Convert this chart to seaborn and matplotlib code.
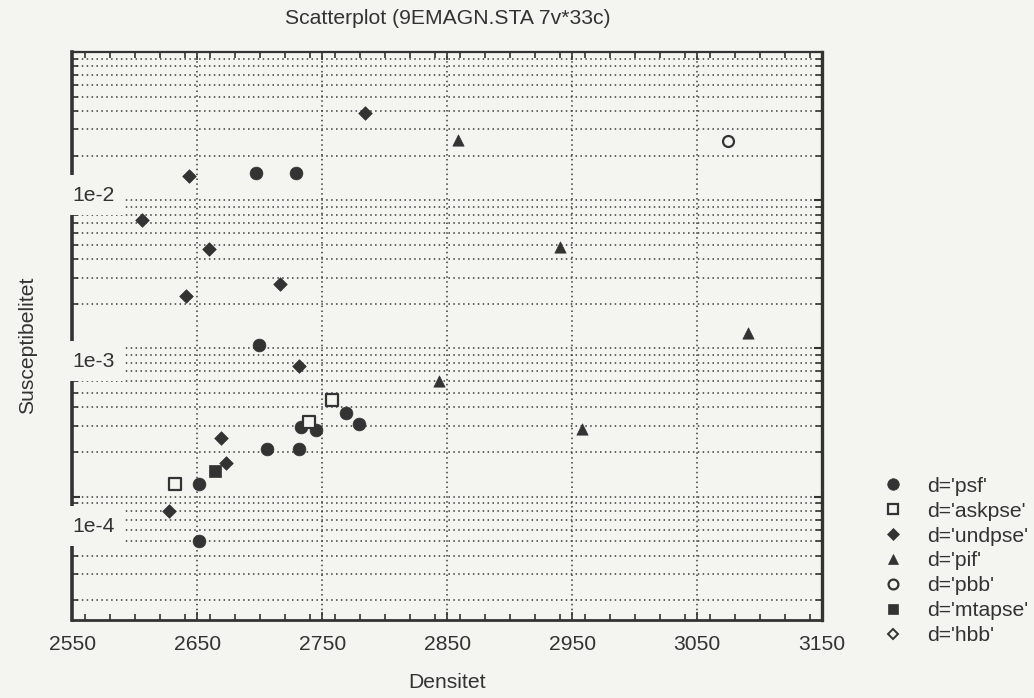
import numpy as np
import pandas as pd
import matplotlib
matplotlib.use("Agg")
import matplotlib.pyplot as plt
from matplotlib.lines import Line2D
from matplotlib.ticker import LogLocator, MultipleLocator, NullFormatter, FixedLocator
import seaborn as sns

# ---------------- data ----------------
groups = ["psf", "askpse", "undpse", "pif", "pbb", "mtapse", "hbb"]

psf_x = [2697, 2729, 2699, 2769, 2779, 2733, 2745, 2706, 2731, 2651, 2651]
psf_y = [0.0153, 0.0153, 0.00106, 0.000368, 0.000307, 0.000296, 0.000281,
         0.000209, 0.000209, 0.000121, 0.0000502]

askpse_x = [2758, 2739, 2632]
askpse_y = [0.000448, 0.000320, 0.000121]

undpse_x = [2784, 2643, 2606, 2659, 2716, 2641, 2731, 2669, 2673, 2627]
undpse_y = [0.0388, 0.0146, 0.00733, 0.00468, 0.00272, 0.00225, 0.00076,
            0.000249, 0.000169, 0.000080]

pif_x = [2859, 2940, 3091, 2843, 2958]
pif_y = [0.02565, 0.00484, 0.001262, 0.000605, 0.000288]

pbb_x = [3075]
pbb_y = [0.0250]

mtapse_x = [2664]
mtapse_y = [0.000150]

hbb_x = []
hbb_y = []

x_ticks = [2550, 2650, 2750, 2850, 2950, 3050, 3150]
y_tick_labels = ["1e-2", "1e-3", "1e-4"]

title = "Scatterplot (9EMAGN.STA 7v*33c)"
x_label = "Densitet"
y_label = "Susceptibelitet"

# ---------------- styling ----------------
sns.set_theme(style="ticks")
plt.rcParams["font.family"] = ["Liberation Sans", "DejaVu Sans"]

BG = "#f4f5f0"
INK = "#333333"
FS = 15.2

frames = []
for g, xs, ys in [("psf", psf_x, psf_y), ("askpse", askpse_x, askpse_y),
                  ("undpse", undpse_x, undpse_y), ("pif", pif_x, pif_y),
                  ("pbb", pbb_x, pbb_y), ("mtapse", mtapse_x, mtapse_y),
                  ("hbb", hbb_x, hbb_y)]:
    frames.append(pd.DataFrame({"Densitet": xs, "Susc": ys, "d": g}))
df = pd.concat(frames, ignore_index=True)

styles = {
    "psf":    dict(marker="o", s=85, fc=INK, ec=INK, lw=0.5),
    "askpse": dict(marker="s", s=64, fc=BG, ec=INK, lw=1.6),
    "undpse": dict(marker="D", s=48, fc=INK, ec=INK, lw=0.5),
    "pif":    dict(marker="^", s=66, fc=INK, ec=INK, lw=0.5),
    "pbb":    dict(marker="o", s=62, fc=BG, ec=INK, lw=1.6),
    "mtapse": dict(marker="s", s=70, fc=INK, ec=INK, lw=0.5),
    "hbb":    dict(marker="D", s=34, fc=BG, ec=INK, lw=1.4),
}

fig = plt.figure(figsize=(10.34, 6.98), dpi=100, facecolor=BG)
ax = fig.add_axes([0.0701, 0.1117, 0.7249, 0.8138], facecolor=BG)

for g in groups:
    sub = df[df["d"] == g]
    if len(sub) == 0:
        continue
    st = styles[g]
    sns.scatterplot(data=sub, x="Densitet", y="Susc", ax=ax, marker=st["marker"],
                    s=st["s"], color=st["fc"], edgecolor=st["ec"],
                    linewidth=st["lw"], legend=False, zorder=4)

ax.set_yscale("log")
ax.set_xlim(2550, 3150)
ax.set_ylim(1.47e-5, 0.1)

# ticks
ax.xaxis.set_major_locator(FixedLocator(x_ticks))
ax.xaxis.set_minor_locator(MultipleLocator(20))
ax.yaxis.set_major_locator(LogLocator(base=10))
ax.yaxis.set_minor_locator(LogLocator(base=10, subs=np.arange(2, 10)))
ax.yaxis.set_major_formatter(NullFormatter())
ax.yaxis.set_minor_formatter(NullFormatter())
ax.tick_params(axis="both", which="both", direction="in", top=True, right=True,
               color=INK, labelcolor=INK, labelsize=FS)
ax.tick_params(axis="x", which="major", length=6, width=1.2, pad=11)
ax.tick_params(axis="x", which="minor", length=4, width=1.2)
ax.tick_params(axis="y", which="major", length=6, width=1.5, labelleft=False)
ax.tick_params(axis="y", which="minor", length=4, width=1.2)

# grid
grid_kw = dict(color="#3a3a3a", linestyle=(0, (1.0, 2.2)), linewidth=1.1)
ax.grid(True, axis="y", which="both", **grid_kw)
ax.grid(True, axis="x", which="major", **grid_kw)
ax.set_axisbelow(True)

for side, lw in [("left", 2.6), ("right", 2.4), ("bottom", 2.0), ("top", 1.6)]:
    ax.spines[side].set_linewidth(lw)
    ax.spines[side].set_color(INK)
    ax.spines[side].set_visible(True)

# y tick labels drawn in boxes as in the reference
for lab, yf in zip(y_tick_labels, [0.748, 0.456, 0.1655]):
    ax.text(0.0, yf, lab, transform=ax.transAxes, ha="left", va="center",
            fontsize=FS, color=INK, zorder=10, clip_on=False,
            bbox=dict(boxstyle="square,pad=0.5", fc=BG, ec="none"))

ax.set_xlabel("")
ax.set_ylabel("")
fig.text(448 / 1034, 1 - 18 / 698, title, ha="center", va="center", fontsize=FS, color=INK)
fig.text(447 / 1034, 1 - 683 / 698, x_label, ha="center", va="center", fontsize=FS, color=INK)
fig.text(28 / 1034, 1 - 345 / 698, y_label, ha="center", va="center", fontsize=FS,
         color=INK, rotation=90)

# legend
handles = []
for g in groups:
    st = styles[g]
    ms = np.sqrt(st["s"]) * 0.9
    handles.append(Line2D([], [], linestyle="none", marker=st["marker"], markersize=ms,
                          markerfacecolor=st["fc"], markeredgecolor=st["ec"],
                          markeredgewidth=st["lw"]))
labels = [f"d='{g}'" for g in groups]
fig.legend(handles, labels, loc="upper left", bbox_to_anchor=(0.8536, 0.317),
           frameon=False, fontsize=FS, handlelength=1.0, handletextpad=1.13,
           labelspacing=0.28, borderpad=0, borderaxespad=0, labelcolor=INK)

fig.savefig("out.png", dpi=100, facecolor=BG)
